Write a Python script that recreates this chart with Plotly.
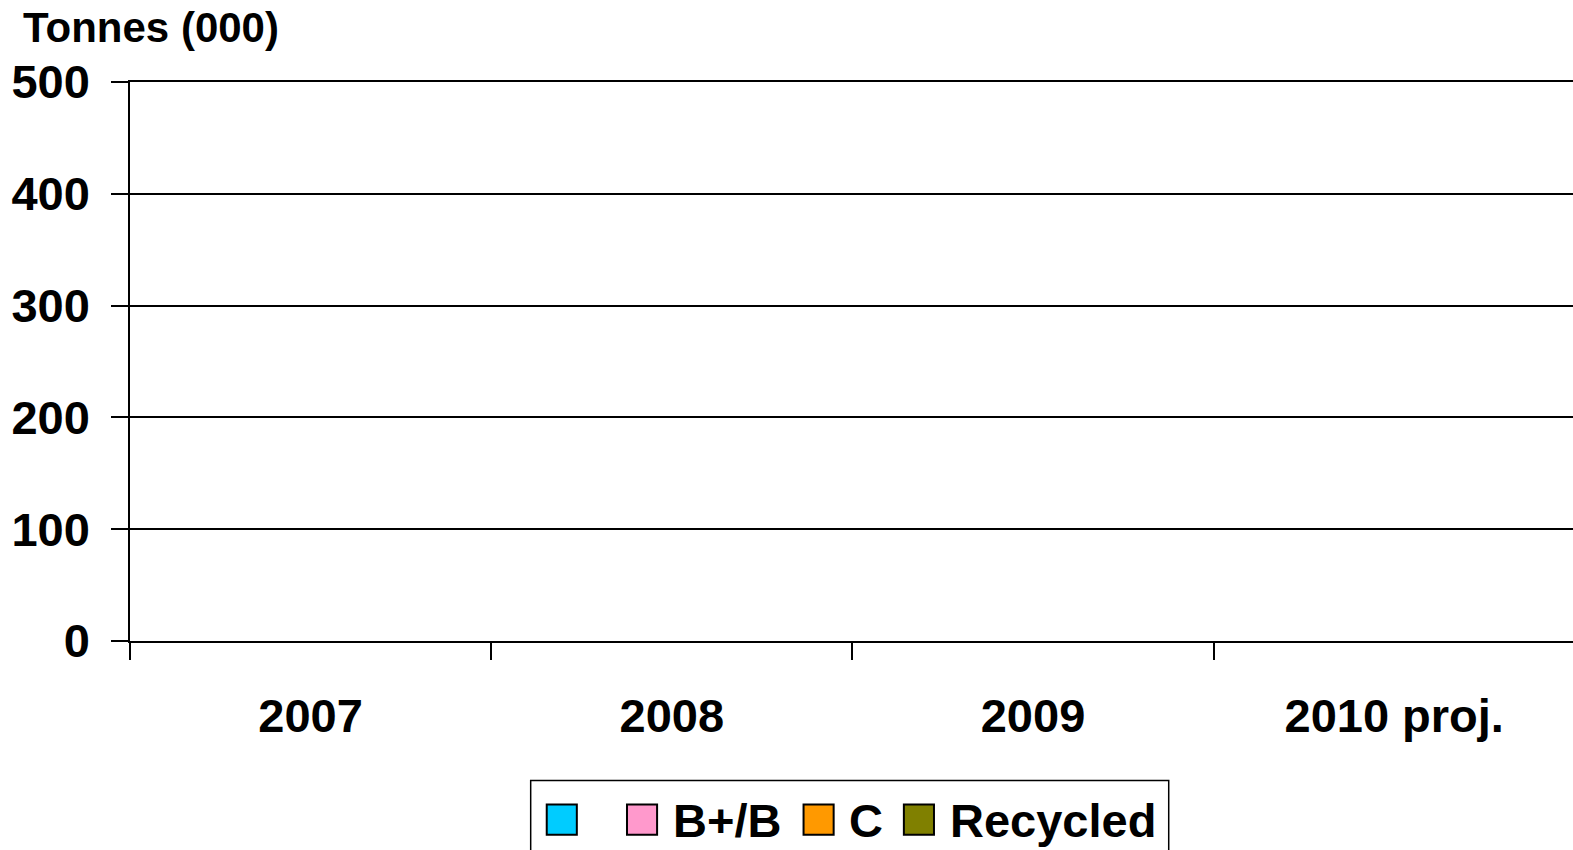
import plotly.graph_objects as go

# Data (chart shows no bars: values are empty)
years = ["2007", "2008", "2009", "2010 proj."]
series_names = ["", "B+/B", "C", "Recycled"]
series_colors = ["#00CCFF", "#FF99CC", "#FF9900", "#808000"]
series_values = {
    "": [None, None, None, None],
    "B+/B": [None, None, None, None],
    "C": [None, None, None, None],
    "Recycled": [None, None, None, None],
}
y_ticks = [0, 100, 200, 300, 400, 500]

W, H = 1573, 850
L, R, T, B = 130, 0, 82, 209
PW, PH = W - L - R, H - T - B
S = 1573 / 1568  # measured positions were read from a slightly shrunk view

def px_x(x):
    return (x * S - L) / PW

def px_y(y):
    return (H - B - y * S) / PH

FONT = "Liberation Sans, Arial, sans-serif"

fig = go.Figure()
for name, color in zip(series_names, series_colors):
    fig.add_trace(go.Bar(
        x=years, y=series_values[name], name=name,
        marker=dict(color=color, line=dict(color="black", width=1.5)),
        showlegend=False,
    ))

fig.update_layout(
    width=W, height=H,
    margin=dict(l=L, r=R, t=T, b=B, pad=0),
    paper_bgcolor="white", plot_bgcolor="white",
    barmode="stack",
    font=dict(family=FONT, size=47, color="black", weight=700),
    showlegend=False,
)
fig.update_xaxes(
    type="category", categoryorder="array", categoryarray=years,
    range=[-0.5, 3.495],
    showgrid=False, showline=True, linecolor="black", linewidth=1.5, mirror=True,
    ticks="outside", tickson="boundaries", ticklen=17, tickwidth=1.5, tickcolor="black",
    tickfont=dict(family=FONT, size=47, color="black", weight=700),
    ticklabelstandoff=33,
)
fig.update_yaxes(
    range=[0, 500], tickvals=y_ticks,
    showgrid=True, gridcolor="black", gridwidth=1.5,
    zeroline=False,
    showline=True, linecolor="black", linewidth=1.5,
    ticks="outside", ticklen=17, tickwidth=1.5, tickcolor="black",
    tickfont=dict(family=FONT, size=47, color="black", weight=700),
    ticklabelstandoff=12,
)

# Axis title
fig.add_annotation(
    text="Tonnes (000)", xref="paper", yref="paper",
    x=px_x(21), y=px_y(27), xanchor="left", yanchor="middle",
    showarrow=False, font=dict(family=FONT, size=42, color="black", weight=700),
)

# Custom legend (large swatches as in the original)
fig.add_shape(type="rect", xref="paper", yref="paper",
              x0=px_x(529), x1=px_x(1165), y0=px_y(778), y1=px_y(880),
              line=dict(color="black", width=1.5), fillcolor="white", layer="above")
swatch_left = [545, 625, 801, 901]
label_left = [590, 669, 844, 945]
for name, color, sx, lx in zip(series_names, series_colors, swatch_left, label_left):
    fig.add_shape(type="rect", xref="paper", yref="paper",
                  x0=px_x(sx), x1=px_x(sx + 30), y0=px_y(802), y1=px_y(832),
                  line=dict(color="black", width=2), fillcolor=color, layer="above")
    if name:
        fig.add_annotation(text=name, xref="paper", yref="paper",
                           x=px_x(lx), y=px_y(818), xanchor="left", yanchor="middle",
                           showarrow=False,
                           font=dict(family=FONT, size=47, color="black", weight=700))

fig.write_html("out.html")
